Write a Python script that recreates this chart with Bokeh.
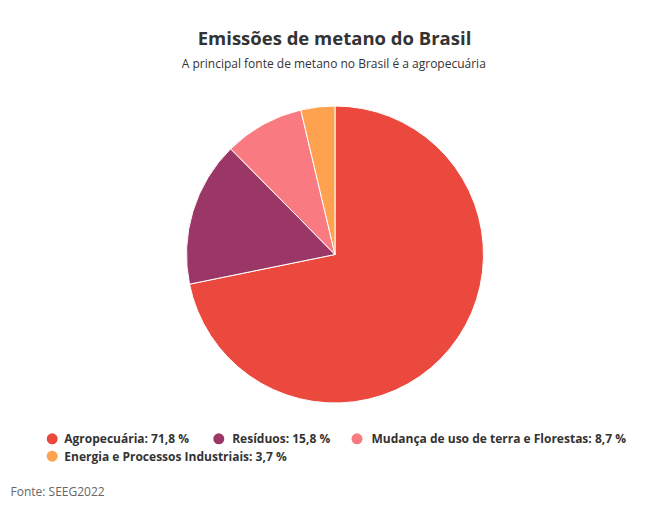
import math
from bokeh.plotting import figure
from bokeh.models import Range1d, ColumnDataSource
from bokeh.core.properties import value
from bokeh.embed import file_html
from bokeh.resources import INLINE

# ---- data ----
categories = ["Agropecuária", "Resíduos", "Mudança de uso de terra e Florestas",
              "Energia e Processos Industriais"]
shares = [71.8, 15.8, 8.7, 3.7]
colors = ["#EC493E", "#9A3767", "#F97A81", "#FFA24F"]
title_text = "Emissões de metano do Brasil"
subtitle_text = "A principal fonte de metano no Brasil é a agropecuária"
source_text = "Fonte: SEEG2022"

# ---- layout ----
W, H = 640, 508
FONT = "Open Sans"
cx, cy, R = 334.5, 254, 148.5
legend_marker_x = [51.7, 218.3, 356.5, 51.7]
legend_text_x = [63.8, 231.7, 371.0, 63.8]
legend_y = [69.7, 69.7, 69.7, 52.3]

total = sum(shares)
starts, ends = [], []
acc = 0.0
for s in shares:
    starts.append(math.pi / 2 - acc / total * 2 * math.pi)
    acc += s
    ends.append(math.pi / 2 - acc / total * 2 * math.pi)

src = ColumnDataSource(dict(start=starts, end=ends, color=colors))

p = figure(width=W, height=H, x_range=Range1d(0, W), y_range=Range1d(0, H),
           output_backend="svg", toolbar_location=None, min_border=0)
p.axis.visible = False
p.grid.visible = False
p.outline_line_color = None
p.background_fill_color = "white"
p.border_fill_color = "white"

p.wedge(x=cx, y=cy, radius=R, start_angle="start", end_angle="end",
        direction="clock", fill_color="color", line_color="white",
        line_width=1, source=src)

p.text(x=[334], y=[471.0], text=[title_text], text_font=value(FONT),
       text_font_size="18.5px", text_font_style="bold", text_color="#333333",
       text_align="center", text_baseline="middle")
p.text(x=[333.3], y=[445.5], text=[subtitle_text], text_font=value(FONT),
       text_font_size="12px", text_color="#333333",
       text_align="center", text_baseline="middle")

labels = [f"{c}: {str(s).replace('.', ',')} %" for c, s in zip(categories, shares)]
lsrc = ColumnDataSource(dict(mx=legend_marker_x, y=legend_y, tx=legend_text_x,
                             label=labels, color=colors))
p.scatter(x="mx", y="y", size=11, marker="circle", fill_color="color",
          line_color=None, source=lsrc)
p.text(x="tx", y="y", text="label", text_font=value(FONT), text_font_size="12px",
       text_font_style="bold", text_color="#333333", text_align="left",
       text_baseline="middle", source=lsrc)

p.text(x=[10], y=[17.3], text=[source_text], text_font=value(FONT),
       text_font_size="12px", text_color="#666666", text_align="left",
       text_baseline="middle")

open("out.html", "w").write(file_html(p, INLINE))
